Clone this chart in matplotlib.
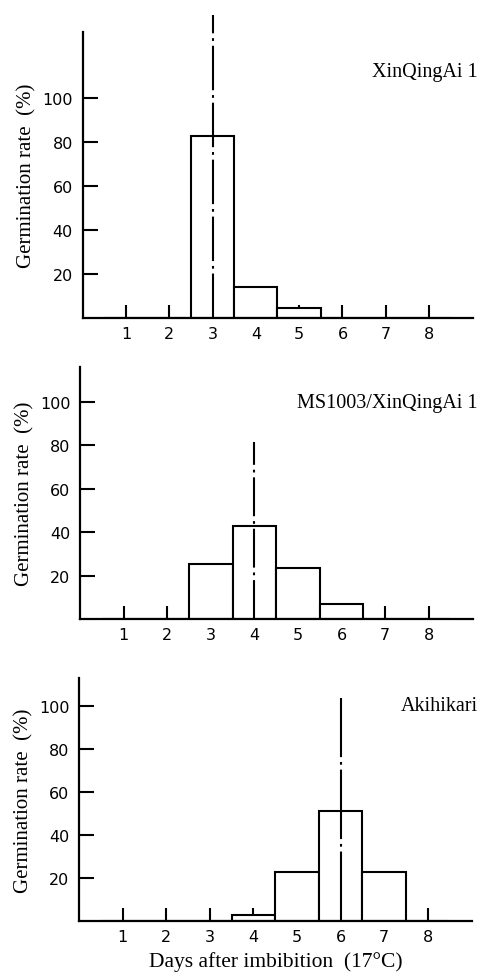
import matplotlib
matplotlib.use("Agg")
import matplotlib.pyplot as plt

days = [1, 2, 3, 4, 5, 6, 7, 8]
day_labels = ["1", "2", "3", "4", "5", "6", "7", "8"]
y_ticks = [20, 40, 60, 80, 100]

names = ["XinQingAi 1", "MS1003/XinQingAi 1", "Akihikari"]
rate_xinqingai = [0, 0, 83, 14, 4.5, 0, 0, 0]
rate_ms1003 = [0, 0, 25.5, 43, 23.5, 7, 0, 0]
rate_akihikari = [0, 0, 0, 3, 23, 51, 23, 0]
rates = [rate_xinqingai, rate_ms1003, rate_akihikari]
mean_day = [3, 4, 6]
mean_line_top = [138, 81.5, 104]

plt.rcParams['lines.scale_dashes'] = False

fig = plt.figure(figsize=(4.8, 9.79), dpi=100)
serif = ["Liberation Serif", "DejaVu Serif"]

rects = [
    [0.172, 0.674, 0.814, 0.292],
    [0.1667, 0.3667, 0.819, 0.2574],
    [0.1646, 0.0582, 0.819, 0.248],
]
ylims = [130, 116, 113]
label_y = [72, 404, 707]
dash_styles = [(0, (32, 3.5, 2, 3.5)), (0, (28, 3.5, 2, 3.5)), (0, (50, 3.5, 2, 3.5))]

for i in range(3):
    ax = fig.add_axes(rects[i])
    ax.bar(days, rates[i], width=1.0, color="white", edgecolor="black",
           linewidth=1.5, zorder=2)
    ax.plot([mean_day[i], mean_day[i]], [0, mean_line_top[i]], color="black",
            linewidth=1.5, linestyle=dash_styles[i], clip_on=False, zorder=3)
    ax.set_xlim(0, 9.02)
    ax.set_ylim(0, ylims[i])
    for s in ["top", "right"]:
        ax.spines[s].set_visible(False)
    for s in ["left", "bottom"]:
        ax.spines[s].set_linewidth(1.6)
    ax.set_xticks(days)
    ax.set_xticklabels(day_labels)
    ax.set_yticks(y_ticks)
    ax.set_yticklabels([str(v) for v in y_ticks])
    ax.tick_params(axis="x", direction="in", length=9.5, width=1.5, pad=6,
                   labelsize=11.5)
    ax.tick_params(axis="y", direction="in", length=11, width=1.5, pad=7,
                   labelsize=11.5)
    ax.set_ylabel("Germination rate  (%)", fontfamily=serif, fontsize=15,
                  labelpad=4)
    ax.text(0.995, 1 - (label_y[i]) / 979, names[i], transform=fig.transFigure,
            ha="right", va="center", fontfamily=serif, fontsize=14.5)
    ax.patch.set_alpha(0)
    if i == 2:
        ax.set_xlabel("Days after imbibition  (17°C)", fontfamily=serif,
                      fontsize=15.5, labelpad=5)

fig.savefig("out.png", dpi=100)
